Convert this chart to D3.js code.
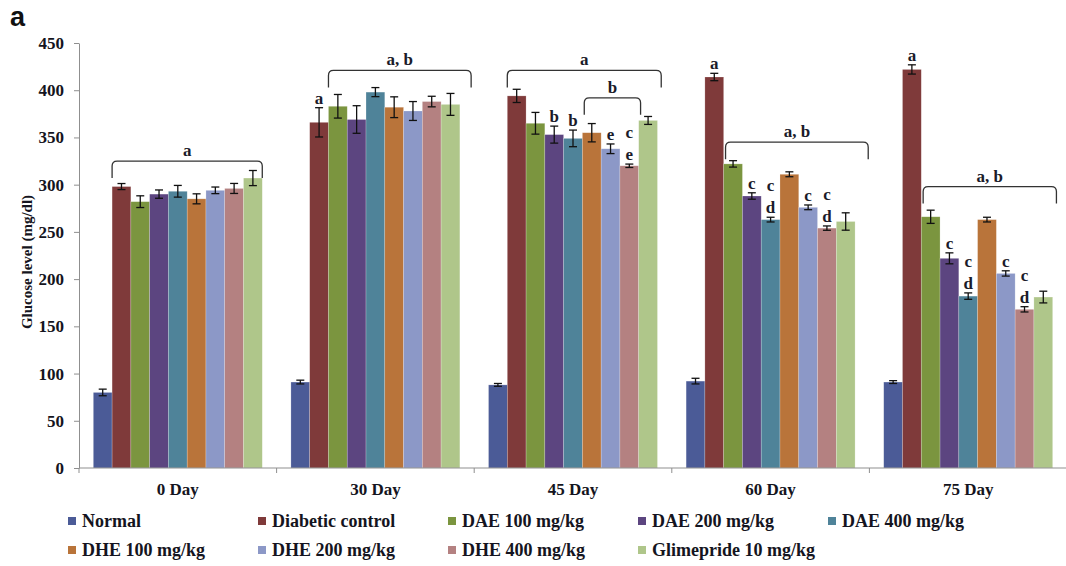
<!DOCTYPE html>
<html>
<head>
<meta charset="utf-8">
<script src="https://cdn.jsdelivr.net/npm/d3@7"></script>
<style>
  html, body { margin: 0; padding: 0; background: #ffffff; }
  svg { display: block; }
  .serif { font-family: "Liberation Serif", "Times New Roman", "DejaVu Serif", serif; font-weight: bold; }
</style>
</head>
<body>
<svg id="chart" width="1066" height="566"></svg>
<script>
// Time points on the x axis
const days = ["0 Day", "30 Day", "45 Day", "60 Day", "75 Day"];

// Treatment groups (legend order = bar order within each day)
const groups = ["Normal", "Diabetic control", "DAE 100 mg/kg", "DAE 200 mg/kg", "DAE 400 mg/kg",
                "DHE 100 mg/kg", "DHE 200 mg/kg", "DHE 400 mg/kg", "Glimepride 10 mg/kg"];
const groupColors = ["#4b5b97", "#7f3a3a", "#7b953f", "#5c4580", "#4f8399",
                     "#b9743a", "#8c98c7", "#b48181", "#afc68a"];

// Mean glucose (mg/dl) per group, one array per time point
const glucose0  = [80, 298, 282, 290, 293, 285, 294, 296, 307];
const glucose30 = [91, 366, 383, 369, 398, 382, 378, 388, 385];
const glucose45 = [88, 394, 365, 353, 349, 355, 338, 320, 368];
const glucose60 = [92, 414, 322, 288, 263, 311, 276, 254, 261];
const glucose75 = [91, 422, 266, 222, 182, 263, 206, 168, 181];

// Standard error per group, one array per time point
const sem0  = [3.5, 3.2, 6.2, 4.4, 6.2, 5.3, 3.5, 5.3, 8.0];
const sem30 = [2.0, 15.5, 12.5, 14.6, 4.8, 11.0, 10.0, 5.6, 11.6];
const sem45 = [1.5, 7.0, 11.5, 9.0, 8.8, 9.7, 5.1, 1.8, 4.2];
const sem60 = [3.0, 3.9, 3.4, 3.4, 2.5, 2.6, 2.5, 2.3, 9.2];
const sem75 = [1.5, 4.9, 7.0, 5.8, 3.4, 2.5, 2.8, 2.8, 6.2];

const yTicks = [0, 50, 100, 150, 200, 250, 300, 350, 400, 450];

// Significance letters above single bars: [day, group index, letters top-to-bottom]
const barLetters = [
  ["30 Day", 1, ["a"]],
  ["45 Day", 3, ["b"]], ["45 Day", 4, ["b"]], ["45 Day", 6, ["e"]], ["45 Day", 7, ["c", "e"]],
  ["60 Day", 1, ["a"]], ["60 Day", 3, ["c"]], ["60 Day", 4, ["c", "d"]], ["60 Day", 6, ["c"]], ["60 Day", 7, ["c", "d"]],
  ["75 Day", 1, ["a"]], ["75 Day", 3, ["c"]], ["75 Day", 4, ["c", "d"]], ["75 Day", 6, ["c"]], ["75 Day", 7, ["c", "d"]]
];

// Brackets spanning groups of bars: [day, from slot, to slot, level (mg/dl), label]
const brackets = [
  ["0 Day", 1, 9, 325, "a"],
  ["30 Day", 2, 9.6, 421, "a, b"],
  ["45 Day", 1, 9.2, 421, "a"],
  ["45 Day", 5.1, 8.1, 392, "b"],
  ["60 Day", 2.1, 9.7, 345, "a, b"],
  ["75 Day", 2.1, 9.2, 298, "a, b"]
];

const means = [glucose0, glucose30, glucose45, glucose60, glucose75];
const sems = [sem0, sem30, sem45, sem60, sem75];

const rows = [];
days.forEach((d, di) => {
  groups.forEach((g, gi) => {
    rows.push({ day: d, group: g, gi: gi, value: means[di][gi], err: sems[di][gi] });
  });
});
const lookup = (day, gi) => rows.find(r => r.day === day && r.gi === gi);

const svg = d3.select("#chart");
const axisGray = "#8f8f8f";
const ink = "#141420";

const plotLeft = 79, plotRight = 1067, plotBottom = 468, plotTop = 43;

const y = d3.scaleLinear().domain([0, 450]).range([plotBottom, plotTop]);
const x0 = d3.scaleBand().domain(days).range([plotLeft, plotRight]).paddingInner(0.145).paddingOuter(0.0725);
const x1 = d3.scaleBand().domain(d3.range(groups.length)).range([0, x0.bandwidth()]);
const slot = d3.scaleLinear().domain([0, groups.length]).range([0, x0.bandwidth()]);

// Panel tag
svg.append("text")
  .attr("x", 10).attr("y", 26)
  .style("font-family", "'Liberation Sans', Arial, sans-serif")
  .style("font-weight", "bold").style("font-size", "27px")
  .attr("fill", "#111")
  .text("a");

// Y axis
const yAxis = svg.append("g")
  .attr("transform", `translate(${plotLeft},0)`)
  .call(d3.axisLeft(y).tickValues(yTicks).tickSize(5).tickPadding(10).tickSizeOuter(0));
yAxis.attr("font-family", null).attr("font-size", null);
yAxis.select(".domain").attr("stroke", axisGray);
yAxis.selectAll(".tick line").attr("stroke", axisGray);
yAxis.selectAll(".tick text")
  .attr("class", "serif").style("font-size", "17px")
  .attr("fill", ink);

// Y axis title
svg.append("text")
  .attr("class", "serif")
  .attr("transform", `translate(27,262) rotate(-90)`)
  .attr("text-anchor", "middle")
  .attr("dominant-baseline", "central")
  .style("font-size", "15px")
  .attr("fill", ink)
  .text("Glucose level (mg/dl)");

// Bars
const dayG = svg.append("g").selectAll("g")
  .data(days).join("g")
  .attr("transform", d => `translate(${x0(d)},0)`);

dayG.selectAll("rect")
  .data(d => rows.filter(r => r.day === d))
  .join("rect")
  .attr("x", r => x1(r.gi))
  .attr("width", x1.bandwidth())
  .attr("y", r => y(r.value))
  .attr("height", r => y(0) - y(r.value))
  .attr("fill", r => groupColors[r.gi])
  .attr("stroke", "rgba(255,255,255,0.35)")
  .attr("stroke-width", 0.6);

// Error bars
const capHalf = 4;
const eb = dayG.selectAll("g.err")
  .data(d => rows.filter(r => r.day === d))
  .join("g").attr("class", "err")
  .attr("stroke", "#111").attr("stroke-width", 1.3);
eb.append("line")
  .attr("x1", r => x1(r.gi) + x1.bandwidth() / 2)
  .attr("x2", r => x1(r.gi) + x1.bandwidth() / 2)
  .attr("y1", r => y(r.value - r.err))
  .attr("y2", r => y(r.value + r.err));
eb.append("line")
  .attr("x1", r => x1(r.gi) + x1.bandwidth() / 2 - capHalf)
  .attr("x2", r => x1(r.gi) + x1.bandwidth() / 2 + capHalf)
  .attr("y1", r => y(r.value + r.err))
  .attr("y2", r => y(r.value + r.err));
eb.append("line")
  .attr("x1", r => x1(r.gi) + x1.bandwidth() / 2 - capHalf)
  .attr("x2", r => x1(r.gi) + x1.bandwidth() / 2 + capHalf)
  .attr("y1", r => y(r.value - r.err))
  .attr("y2", r => y(r.value - r.err));

// X axis line with boundary ticks
svg.append("line")
  .attr("x1", plotLeft).attr("x2", plotRight)
  .attr("y1", plotBottom).attr("y2", plotBottom)
  .attr("stroke", axisGray).attr("stroke-width", 1);
const boundaries = d3.range(days.length + 1).map(i => plotLeft + i * x0.step());
svg.append("g").selectAll("line")
  .data(boundaries).join("line")
  .attr("x1", b => b).attr("x2", b => b)
  .attr("y1", plotBottom).attr("y2", plotBottom + 5)
  .attr("stroke", axisGray);

// Category labels
svg.append("g").selectAll("text")
  .data(days).join("text")
  .attr("class", "serif")
  .attr("x", d => x0(d) + x0.bandwidth() / 2)
  .attr("y", 495)
  .attr("text-anchor", "middle")
  .style("font-size", "17px")
  .attr("fill", ink)
  .text(d => d);

// Letters over individual bars
barLetters.forEach(([day, gi, letters]) => {
  const r = lookup(day, gi);
  const cx = x0(day) + x1(gi) + x1.bandwidth() / 2;
  const base = y(r.value + r.err) - 4;
  letters.slice().reverse().forEach((l, k) => {
    svg.append("text")
      .attr("class", "serif")
      .attr("x", cx).attr("y", base - k * 22)
      .attr("text-anchor", "middle")
      .style("font-size", "17px").attr("fill", "#1b1b2a")
      .text(l);
  });
});

// Brackets grouping bars
const legLen = 17, rad = 5;
brackets.forEach(([day, s0, s1, level, label]) => {
  const xa = x0(day) + slot(s0);
  const xb = x0(day) + slot(s1);
  const yt = y(level);
  const p = d3.path();
  p.moveTo(xa, yt + legLen);
  p.lineTo(xa, yt + rad);
  p.quadraticCurveTo(xa, yt, xa + rad, yt);
  p.lineTo(xb - rad, yt);
  p.quadraticCurveTo(xb, yt, xb, yt + rad);
  p.lineTo(xb, yt + legLen);
  svg.append("path")
    .attr("d", p.toString())
    .attr("fill", "none").attr("stroke", "#333").attr("stroke-width", 1.3);
  svg.append("text")
    .attr("class", "serif")
    .attr("x", (xa + xb) / 2).attr("y", yt - 5)
    .attr("text-anchor", "middle")
    .style("font-size", "17px").attr("fill", "#1b1b2a")
    .text(label);
});

// Legend: five columns, two rows
const legCols = 5, colStep = 190, legX = 68, legRows = [521, 550];
const leg = svg.append("g").selectAll("g")
  .data(groups).join("g")
  .attr("transform", (g, i) => `translate(${legX + (i % legCols) * colStep},${legRows[Math.floor(i / legCols)]})`);
leg.append("rect")
  .attr("x", 0).attr("y", -4).attr("width", 8).attr("height", 8)
  .attr("fill", (g, i) => groupColors[i]);
leg.append("text")
  .attr("class", "serif")
  .attr("x", 14).attr("y", 0)
  .attr("dominant-baseline", "central")
  .style("font-size", "18px")
  .attr("fill", ink)
  .text(g => g);
</script>
</body>
</html>
